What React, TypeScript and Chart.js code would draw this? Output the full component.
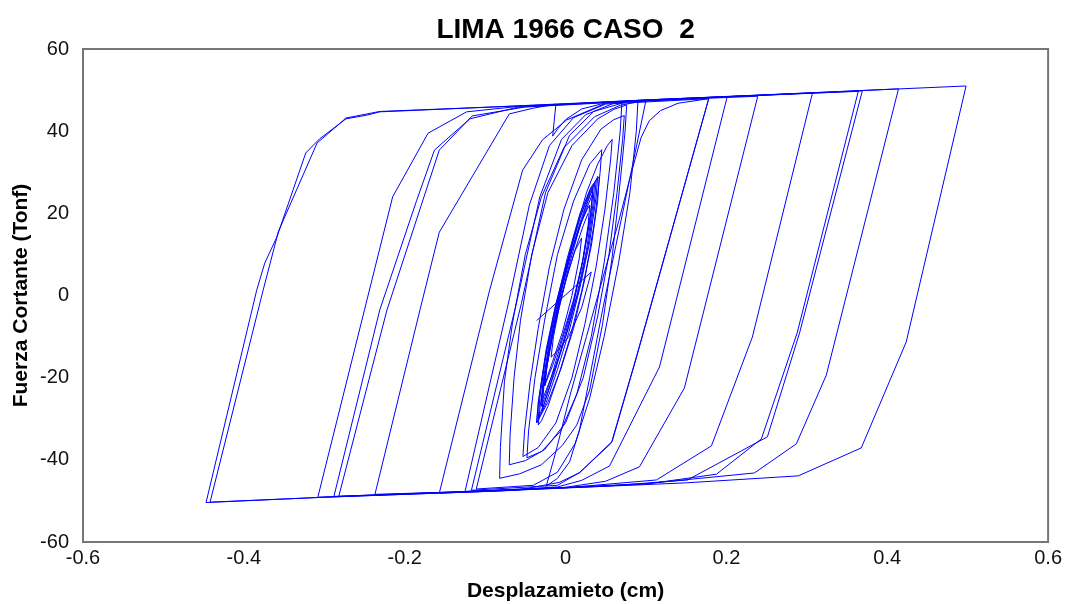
import { useEffect, useRef } from "react";
import { Chart, registerables } from "chart.js";

Chart.register(...registerables);

const chartTitle = "LIMA 1966 CASO  2";
const xAxisTitle = "Desplazamieto (cm)";
const yAxisTitle = "Fuerza Cortante (Tonf)";
const xTickValues = [-0.6, -0.4, -0.2, 0, 0.2, 0.4, 0.6];
const yTickValues = [-60, -40, -20, 0, 20, 40, 60];

type Pt = [number, number];

// [displacement (cm), shear force (Tonf)] in time order
const coreLoops: Pt[] = [
  [-0.036, -6.1], [0.032, 5.7],
  [0.02, -3], [0.004, -10], [-0.01, -13.5], [-0.018, -15],
  [-0.015, -10], [-0.008, -3], [0.002, 5], [0.012, 11], [0.02, 14],
  [0.017, 9], [0.008, 0], [-0.004, -9], [-0.016, -16], [-0.023, -20], [-0.026, -22],
  [-0.023, -17], [-0.015, -8], [-0.004, 2], [0.008, 11], [0.02, 18], [0.027, 21], [0.03, 22],
  [0.028, 17], [0.02, 7], [0.008, -3], [-0.006, -12], [-0.018, -20], [-0.026, -25], [-0.03, -27],
  [-0.028, -22], [-0.02, -12], [-0.008, -1], [0.006, 10], [0.02, 19], [0.03, 24.5], [0.036, 27],
  [0.034, 22], [0.026, 11], [0.014, 0], [0.0, -10], [-0.014, -19], [-0.026, -26], [-0.034, -30],
  [-0.032, -25], [-0.024, -14], [-0.012, -3], [0.002, 8], [0.018, 19], [0.03, 25], [0.037, 27.5], [0.04, 29],
  [0.038, 24], [0.03, 13], [0.018, 2], [0.004, -9], [-0.01, -18], [-0.024, -26], [-0.032, -29.5], [-0.036, -31],
  [-0.033, -25], [-0.024, -13], [-0.012, -2], [0.003, 9], [0.018, 19], [0.03, 25.5], [0.038, 28.2], [0.042, 28.8],
  [0.04, 23], [0.032, 12], [0.02, 1], [0.006, -10], [-0.008, -19], [-0.022, -27], [-0.03, -30.5], [-0.034, -31.5],
  [-0.031, -26], [-0.022, -15], [-0.01, -4], [0.004, 7], [0.018, 17], [0.028, 23], [0.034, 26],
  [0.031, 20], [0.022, 9], [0.01, -2], [-0.004, -12], [-0.018, -21], [-0.026, -26], [-0.029, -28],
];

const growingLoops: Pt[] = [
  [-0.027, -22], [-0.018, -11], [-0.006, 1], [0.01, 14], [0.026, 25], [0.04, 32], [0.052, 36.5], [0.058, 38],
  [0.056, 33], [0.049, 21], [0.038, 7], [0.024, -7], [0.008, -20], [-0.012, -31], [-0.034, -37], [-0.053, -39.2],
  [-0.051, -33], [-0.044, -21], [-0.034, -8], [-0.02, 7], [-0.002, 21], [0.02, 33], [0.044, 40.5], [0.06, 42.8], [0.073, 43.8],
  [0.071, 38], [0.064, 25], [0.054, 10], [0.04, -5], [0.022, -20], [0.0, -31], [-0.026, -37.5], [-0.05, -40.2], [-0.07, -41.2],
  [-0.069, -34], [-0.064, -20], [-0.056, -6], [-0.042, 10], [-0.022, 25], [0.008, 36.5], [0.04, 43], [0.06, 45.3], [0.076, 46.4],
  [0.074, 40], [0.071, 33.7], [0.065, 22], [0.058, 9.4], [0.046, -7], [0.03, -23], [0.014, -31.5], [-0.004, -36.5], [-0.03, -41.2], [-0.057, -43.4], [-0.082, -44.5],
  [-0.081, -37], [-0.076, -21], [-0.066, -6.7], [-0.05, 10], [-0.03, 24], [-0.002, 36], [0.036, 43.5], [0.068, 46.3], [0.1, 47.5],
  [0.046, -3.5], [0.03, -20], [0.017, -33], [0.005, -40.5], [-0.01, -44.5], [-0.024, -46.4],
  [-0.012, -38], [0.006, -24], [0.026, -10], [0.046, 4], [0.066, 18], [0.082, 30], [0.094, 38.5], [0.104, 42.5], [0.118, 45], [0.14, 46.8], [0.178, 47.9],
];

const largeCycles: Pt[] = [
  [0.088, -15], [0.057, -35.9], [0.017, -43.2], [-0.008, -45.5], [-0.06, -47.4], [-0.157, -48.1],
  [-0.0944, 1.3], [-0.0534, 30.5], [-0.0286, 37.9], [0.0012, 42.7], [0.05, 46.8], [0.201, 48.4],
  [0.1168, -17.4], [0.0547, -41.5], [0.02, -45], [-0.01, -46.6], [-0.1, -47.6], [-0.237, -48.4],
  [-0.181, -3.5], [-0.157, 15.4], [-0.07, 44.2], [-0.04, 45.6], [-0.012, 46.6], [-0.016, 38.8], [-0.01, 40.5], [0.0, 42.8], [0.02, 45.4], [0.05, 46.9], [0.1, 47.4], [0.239, 48.5],
  [0.1478, -22.5], [0.0919, -41.7], [0.05, -45.2], [0.0, -46.7], [-0.15, -47.9], [-0.308, -49.1],
  [-0.25, -3.5], [-0.215, 24], [-0.171, 39.5], [-0.123, 44.7], [-0.06, 46], [0.1, 47.6], [0.307, 49.3],
  [0.2323, -10.1], [0.1814, -36.6], [0.113, -44.9], [0.0, -46.8], [-0.15, -47.9], [-0.288, -48.9],
  [-0.231, -3.5], [-0.185, 23.2], [-0.163, 35.4], [-0.119, 43], [-0.06, 45.8], [0.1, 47.6], [0.364, 49.7],
  [0.288, -9.1], [0.2435, -34.9], [0.1876, -43.5], [0.1, -45.9], [-0.1, -47.7], [-0.3, -49.1], [-0.447, -50.4],
  [-0.384, 1.3], [-0.374, 7.9], [-0.359, 14.2], [-0.323, 34.7], [-0.306, 38.1], [-0.273, 43], [-0.247, 43.9], [-0.231, 44.7], [-0.1, 45.8], [0.1, 47.6], [0.3, 49.3], [0.498, 51],
  [0.4236, -11.3], [0.3677, -37.1], [0.2894, -43.9], [0.15, -45.6], [-0.1, -47.7], [-0.3, -49.1], [-0.442, -50.3],
  [-0.376, 1.3], [-0.357, 15.6], [-0.309, 37.1], [-0.273, 43.2], [-0.231, 44.8], [0.0, 46.6], [0.2, 48.4], [0.414, 50.3],
  [0.3242, -19.4], [0.287, -36.1], [0.2348, -43.2], [0.1, -45.8], [-0.1, -47.6], [-0.282, -48.9],
  [-0.222, -3.5], [-0.157, 35.4], [-0.116, 43.7], [-0.05, 45.9], [0.15, 47.9], [0.369, 49.8],
  [0.291, -9.1], [0.251, -34.4], [0.1516, -44.9], [0.05, -46.4], [-0.125, -47.7],
];

const decayLoops: Pt[] = [
  [-0.07, -1], [-0.045, 22], [-0.02, 36.5], [0.01, 43.3], [0.05, 46.6], [0.178, 47.9],
  [0.089, -14.5], [0.058, -35.5], [0.018, -43], [-0.01, -46.2], [-0.117, -47.4],
  [-0.06, -1], [-0.032, 24], [-0.005, 38], [0.025, 44], [0.06, 46.8], [0.09, 47.4],
  [0.088, 40], [0.08, 25], [0.066, 8], [0.048, -10], [0.03, -25], [0.012, -36], [-0.01, -43], [-0.04, -46.2], [-0.111, -47.1],
  [-0.055, -2], [-0.025, 25], [0.005, 39], [0.035, 44.8], [0.07, 46.8],
  [0.068, 40], [0.06, 25], [0.048, 8], [0.032, -10], [0.014, -24], [-0.006, -33], [-0.03, -38], [-0.048, -39.5],
  [-0.046, -33], [-0.038, -20], [-0.026, -6], [-0.01, 10], [0.01, 23], [0.03, 32], [0.045, 35.5],
  [0.043, 30], [0.036, 18], [0.024, 4], [0.01, -8], [-0.006, -18], [-0.022, -26], [-0.036, -31],
  [-0.034, -26], [-0.026, -16], [-0.014, -4], [0.002, 9], [0.018, 20], [0.032, 26.5], [0.038, 28],
  [0.036, 23], [0.028, 12], [0.016, 1], [0.002, -9], [-0.012, -17], [-0.024, -23], [-0.03, -26],
  [-0.028, -21], [-0.02, -11], [-0.008, 0], [0.006, 10], [0.02, 18], [0.03, 23], [0.034, 25],
  [0.031, 19], [0.022, 9], [0.01, -1], [-0.004, -10], [-0.016, -17], [-0.024, -21], [-0.026, -22],
  [-0.023, -17], [-0.014, -8], [-0.002, 2], [0.01, 10], [0.022, 17], [0.028, 20],
];

const FONT = "'Liberation Sans', Arial, Helvetica, sans-serif";

const framePlugin = {
  id: "frameAndTitle",
  afterDatasetsDraw(chart: any) {
    const { ctx, chartArea } = chart;
    ctx.save();
    ctx.strokeStyle = "#767676";
    ctx.lineWidth = 2;
    ctx.strokeRect(chartArea.left, chartArea.top, chartArea.right - chartArea.left, chartArea.bottom - chartArea.top);
    ctx.fillStyle = "#000";
    ctx.font = `bold 28px ${FONT}`;
    ctx.textAlign = "center";
    ctx.textBaseline = "alphabetic";
    ctx.fillText(chartTitle, (chartArea.left + chartArea.right) / 2, 38);
    ctx.restore();
  },
};

export default function App() {
  const canvasRef = useRef<HTMLCanvasElement | null>(null);

  useEffect(() => {
    if (!canvasRef.current) return;
    const path = [...coreLoops, ...growingLoops, ...largeCycles, ...decayLoops];
    const chart = new Chart(canvasRef.current, {
      type: "scatter",
      data: {
        datasets: [
          {
            data: path.map(([x, y]) => ({ x, y })),
            showLine: true,
            borderColor: "#0000ff",
            borderWidth: 1,
            pointRadius: 0,
            pointHoverRadius: 0,
            fill: false,
            tension: 0,
          },
        ],
      },
      options: {
        responsive: false,
        animation: false,
        events: [],
        layout: { padding: { top: 49, right: 17, bottom: 0, left: 0 } },
        plugins: { legend: { display: false }, title: { display: false }, tooltip: { enabled: false } },
        scales: {
          x: {
            type: "linear",
            min: -0.6,
            max: 0.6,
            afterBuildTicks: (s: any) => {
              s.ticks = xTickValues.map((v) => ({ value: v }));
            },
            afterFit: (s: any) => {
              s.height = 62;
            },
            grid: { display: false, drawTicks: false },
            border: { display: false },
            ticks: {
              padding: 4,
              color: "#111",
              font: { family: FONT, size: 20 },
              callback: (v: any) => String(v),
            },
            title: {
              display: true,
              text: xAxisTitle,
              color: "#000",
              font: { family: FONT, size: 21, weight: "bold" },
              padding: { top: 0, bottom: 0 },
            },
          },
          y: {
            type: "linear",
            min: -60,
            max: 60,
            afterBuildTicks: (s: any) => {
              s.ticks = yTickValues.map((v) => ({ value: v }));
            },
            afterFit: (s: any) => {
              s.width = 83;
            },
            grid: { display: false, drawTicks: false },
            border: { display: false },
            ticks: {
              padding: 14,
              color: "#111",
              font: { family: FONT, size: 20 },
              callback: (v: any) => String(v),
            },
            title: {
              display: true,
              text: yAxisTitle,
              color: "#000",
              font: { family: FONT, size: 21, weight: "bold" },
              padding: { top: 9, bottom: 0 },
            },
          },
        },
      },
      plugins: [framePlugin],
    });
    return () => chart.destroy();
  }, []);

  return (
    <div style={{ position: "absolute", left: 0, top: 0, width: 1066, height: 604, background: "#fff" }}>
      <canvas ref={canvasRef} width={1066} height={604} />
    </div>
  );
}
